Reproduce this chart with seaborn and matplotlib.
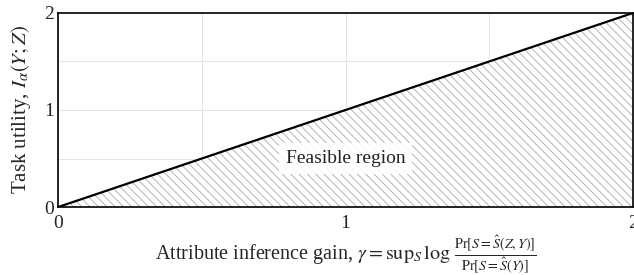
import matplotlib
matplotlib.use("Agg")
import matplotlib.pyplot as plt
import seaborn as sns
import pandas as pd

# data
gamma = [0, 2]
utility = [0, 2]
ticks = [0, 1, 2]
minor_ticks = [0.5, 1.5]

sns.set_style("white")
plt.rcParams['font.family'] = ['Liberation Serif', 'DejaVu Serif']
plt.rcParams['mathtext.fontset'] = 'stix'
plt.rcParams['hatch.color'] = '#aaaaaa'
plt.rcParams['hatch.linewidth'] = 0.6

df = pd.DataFrame({'gamma': gamma, 'utility': utility})

fig = plt.figure(figsize=(6.34, 2.75), dpi=100)
ax = fig.add_axes([0.0915, 0.247, 0.9070, 0.706])

ax.fill_between(df['gamma'], df['utility'], 0, facecolor='white',
                edgecolor='#aaaaaa', hatch='\\\\\\\\', linewidth=0, zorder=1)
sns.lineplot(data=df, x='gamma', y='utility', color='black', linewidth=1.6, ax=ax, zorder=3)

ax.set_xlim(0, 2)
ax.set_ylim(0, 2)
ax.set_xticks(ticks)
ax.set_yticks(ticks)
ax.set_xticks(minor_ticks, minor=True)
ax.set_yticks(minor_ticks, minor=True)
ax.grid(True, which='both', color='#e4e4e4', linewidth=0.7, zorder=0)
ax.set_axisbelow(True)
ax.tick_params(axis='both', which='both', length=0, labelsize=14)
ax.tick_params(axis='x', pad=6)
ax.tick_params(axis='y', pad=3)

for s in ax.spines.values():
    s.set_color('black')
    s.set_linewidth(1.2)

ax.text(1, 0.5, 'Feasible region', ha='center', va='center', fontsize=14,
        color='#222222', zorder=4,
        bbox=dict(facecolor='white', edgecolor='none', alpha=0.9, pad=5))

ax.set_xlabel(r'Attribute inference gain, $\gamma = \mathrm{sup}_S\, \log\, \frac{\mathrm{Pr}[S=\hat{S}(Z,Y)]}{\mathrm{Pr}[S=\hat{S}(Y)]}$',
              fontsize=14.5, labelpad=1)
ax.set_ylabel(r'Task utility, $I_\alpha(Y;Z)$', fontsize=15, labelpad=8)

fig.savefig('out.png', dpi=100)
plt.close()
